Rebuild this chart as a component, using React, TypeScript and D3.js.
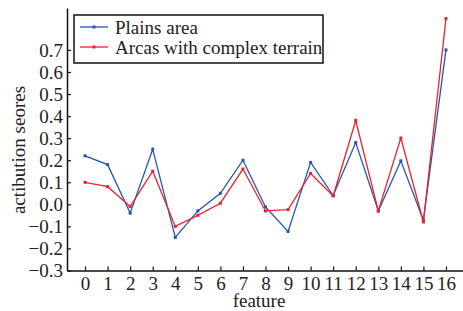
import * as d3 from "d3";
import { useEffect, useRef } from "react";

// feature index on the x axis
const features = d3.range(0, 17);
const plains = [0.22, 0.18, -0.04, 0.25, -0.15, -0.03, 0.05, 0.2, -0.012, -0.123, 0.19, 0.04, 0.28, -0.03, 0.197, -0.072, 0.7];
const complexTerrain = [0.1, 0.08, -0.01, 0.15, -0.1, -0.05, 0.005, 0.16, -0.03, -0.024, 0.14, 0.038, 0.38, -0.03, 0.3, -0.08, 0.842];
const yTicks = [-0.3, -0.2, -0.1, 0.0, 0.1, 0.2, 0.3, 0.4, 0.5, 0.6, 0.7];

const seriesNames = ["Plains area", "Arcas with complex terrain"];
const colors = ["#2557b0", "#e8232e"];

export default function App() {
  const svgRef = useRef<SVGSVGElement>(null);

  useEffect(() => {
    const svg = d3.select(svgRef.current);
    svg.selectAll("*").remove();
    const font = "'Liberation Serif', 'Times New Roman', serif";

    const x = d3.scaleLinear().domain([-0.8, 16.8]).range([67, 464]);
    const y = d3.scaleLinear().domain([-0.3, 0.89]).range([270.5, 8]);

    // axes
    const xAxis = svg
      .append("g")
      .attr("transform", "translate(0," + y(-0.3) + ")")
      .call(d3.axisBottom(x).tickValues(features).tickSize(-4).tickFormat(d3.format("d")).tickSizeOuter(0));
    xAxis.select(".domain").attr("stroke", "#111").attr("stroke-width", 1.5);
    xAxis.selectAll(".tick line").attr("stroke", "#111").attr("stroke-width", 1.2);
    xAxis
      .selectAll(".tick text")
      .attr("y", 6)
      .attr("fill", "#222")
      .style("font-family", font)
      .style("font-size", "19px");

    const yAxis = svg
      .append("g")
      .attr("transform", "translate(" + x(-0.8) + ",0)")
      .call(
        d3
          .axisLeft(y)
          .tickValues(yTicks)
          .tickSize(-4)
          .tickSizeOuter(0)
          .tickFormat((d) => d3.format(".1f")(d as number).replace("-", "\u2212"))
      );
    yAxis.select(".domain").attr("stroke", "#111").attr("stroke-width", 1.5);
    yAxis.selectAll(".tick line").attr("stroke", "#111").attr("stroke-width", 1.2);
    yAxis
      .selectAll(".tick text")
      .attr("x", -4)
      .attr("fill", "#222")
      .style("font-family", font)
      .style("font-size", "19px");

    // lines and markers
    [plains, complexTerrain].forEach((vals, si) => {
      const line = d3
        .line<number>()
        .x((d, i) => x(features[i]))
        .y((d) => y(d));
      svg
        .append("path")
        .datum(vals)
        .attr("d", line)
        .attr("fill", "none")
        .attr("stroke", colors[si])
        .attr("stroke-width", 1.3);
      svg
        .append("g")
        .selectAll("rect")
        .data(vals)
        .enter()
        .append("rect")
        .attr("x", (d, i) => x(features[i]) - 1.5)
        .attr("y", (d) => y(d) - 1.5)
        .attr("width", 3)
        .attr("height", 3)
        .attr("fill", colors[si]);
    });

    // legend
    const legend = svg.append("g");
    legend
      .append("rect")
      .attr("x", 74)
      .attr("y", 15)
      .attr("width", 249)
      .attr("height", 48)
      .attr("fill", "white")
      .attr("stroke", "#111")
      .attr("stroke-width", 1.5);
    seriesNames.forEach((name, i) => {
      const ly = 27 + i * 20;
      legend
        .append("line")
        .attr("x1", 80)
        .attr("x2", 108)
        .attr("y1", ly)
        .attr("y2", ly)
        .attr("stroke", colors[i])
        .attr("stroke-width", 1.3);
      legend
        .append("rect")
        .attr("x", 92.5)
        .attr("y", ly - 1.5)
        .attr("width", 3)
        .attr("height", 3)
        .attr("fill", colors[i]);
      legend
        .append("text")
        .attr("x", 115)
        .attr("y", ly + 7)
        .text(name)
        .attr("fill", "#222")
        .style("font-family", font)
        .style("font-size", "19px");
    });

    // axis labels
    svg
      .append("text")
      .attr("x", 259)
      .attr("y", 307)
      .attr("text-anchor", "middle")
      .text("feature")
      .attr("fill", "#222")
      .style("font-family", font)
      .style("font-size", "19px");
    svg
      .append("text")
      .attr("transform", "translate(25,150) rotate(-90)")
      .attr("text-anchor", "middle")
      .text("actibution seores")
      .attr("fill", "#222")
      .style("font-family", font)
      .style("font-size", "19px");
  }, []);

  return (
    <svg
      ref={svgRef}
      width={463}
      height={311}
      style={{ position: "absolute", left: 0, top: 0, background: "white" }}
    />
  );
}
